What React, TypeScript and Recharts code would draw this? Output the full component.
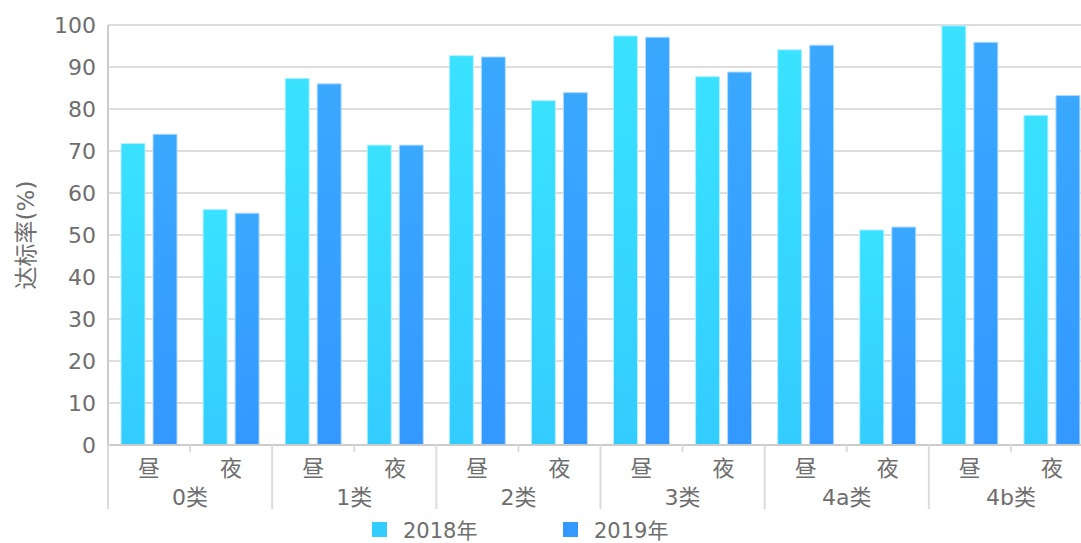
import React from 'react';
import { BarChart, Bar, XAxis, YAxis, CartesianGrid, Legend } from 'recharts';

const categories = ['0类', '1类', '2类', '3类', '4a类', '4b类'];
const periods = ['昼', '夜'];
const values2018 = [71.8, 56.1, 87.3, 71.4, 92.7, 82.0, 97.4, 87.7, 94.1, 51.2, 99.8, 78.5];
const values2019 = [74.0, 55.2, 86.0, 71.4, 92.4, 83.9, 97.1, 88.8, 95.2, 51.9, 95.9, 83.2];
const seriesNames = ['2018年', '2019年'];
const yTicks = [0, 10, 20, 30, 40, 50, 60, 70, 80, 90, 100];

const data = categories.flatMap((cat, ci) =>
  periods.map((p, pi) => ({
    key: `${cat}-${p}`,
    cat,
    period: p,
    v2018: values2018[ci * 2 + pi],
    v2019: values2019[ci * 2 + pi],
  }))
);

const FONT = '"DejaVu Sans", "Noto Sans CJK SC", sans-serif';
const TEXT = '#6e6e6e';
const SEP = '#dcdcdc';
const legendColors = ['#33ccff', '#3399ff'];

const XTick = (props: any) => {
  const { x, y, payload, width, visibleTicksCount } = props;
  const idx = payload.index;
  const row = data[idx];
  const bw = width / (visibleTicksCount || data.length);
  const top = y - 8;
  const els: any[] = [];
  els.push(
    <text key="p" x={x} y={top + 31} textAnchor="middle" fontSize={22} fill={TEXT} fontFamily={FONT}>
      {row ? row.period : ''}
    </text>
  );
  if (idx % 2 === 0) {
    els.push(
      <line key="s" x1={x - bw / 2} x2={x - bw / 2} y1={top} y2={top + 64} stroke={SEP} strokeWidth={2} />
    );
    els.push(
      <text key="c" x={x + bw / 2} y={top + 60} textAnchor="middle" fontSize={22} fill={TEXT} fontFamily={FONT}>
        {row ? row.cat : ''}
      </text>
    );
  } else {
    els.push(
      <line key="t" x1={x - bw / 2} x2={x - bw / 2} y1={top} y2={top + 7} stroke={SEP} strokeWidth={2} />
    );
    if (idx === data.length - 1) {
      els.push(
        <line key="e" x1={x + bw / 2} x2={x + bw / 2} y1={top} y2={top + 64} stroke={SEP} strokeWidth={2} />
      );
    }
  }
  return <g>{els}</g>;
};

const LegendContent = () => (
  <div style={{ position: 'relative', height: 28, fontFamily: FONT, fontSize: 21, color: TEXT }}>
    {seriesNames.map((n, i) => (
      <div
        key={n}
        style={{
          position: 'absolute',
          left: 324 + i * 191,
          top: 0,
          display: 'flex',
          alignItems: 'center',
          height: 28,
          whiteSpace: 'nowrap',
        }}
      >
        <span style={{ display: 'inline-block', width: 15, height: 15, background: legendColors[i], marginRight: 16 }} />
        <span>{n}</span>
      </div>
    ))}
  </div>
);

export default function App() {
  return (
    <div style={{ width: 1073, height: 535, overflow: 'hidden' }}>
      <style>{'html,body{overflow:hidden;} body{margin:8px 0 0 8px;}'}</style>
      <BarChart
        width={1100}
        height={535}
        data={data}
        margin={{ top: 17, right: 15, left: 40, bottom: 0 }}
        barSize={24}
        barGap={8}
      >
        <defs>
          <linearGradient id="g2018" x1="0" y1="0" x2="0" y2="1">
            <stop offset="0%" stopColor="#3ae2ff" />
            <stop offset="100%" stopColor="#33ccff" />
          </linearGradient>
          <linearGradient id="g2019" x1="0" y1="0" x2="0" y2="1">
            <stop offset="0%" stopColor="#3aa8ff" />
            <stop offset="100%" stopColor="#3398ff" />
          </linearGradient>
        </defs>
        <CartesianGrid vertical={false} stroke="#dddddd" strokeWidth={2} />
        <XAxis
          dataKey="key"
          height={70}
          interval={0}
          tickLine={false}
          axisLine={{ stroke: '#cccccc', strokeWidth: 2 }}
          tick={<XTick />}
        />
        <YAxis
          width={60}
          domain={[0, 100]}
          ticks={yTicks}
          interval={0}
          tickLine={false}
          axisLine={{ stroke: '#cccccc', strokeWidth: 2 }}
          tick={{ fontSize: 22, fill: TEXT, fontFamily: FONT }}
          tickMargin={6}
          label={{
            value: '达标率(%)',
            angle: -90,
            position: 'insideLeft',
            dx: -27,
            dy: 0,
            style: { fontSize: 23, fill: TEXT, fontFamily: FONT, textAnchor: 'middle' },
          }}
        />
        <Legend verticalAlign="bottom" height={28} content={<LegendContent />} />
        <Bar dataKey="v2018" name={seriesNames[0]} fill="url(#g2018)" stroke="#b5f1ff" strokeWidth={1} isAnimationActive={false} />
        <Bar dataKey="v2019" name={seriesNames[1]} fill="url(#g2019)" stroke="#b5dcff" strokeWidth={1} isAnimationActive={false} />
      </BarChart>
    </div>
  );
}
